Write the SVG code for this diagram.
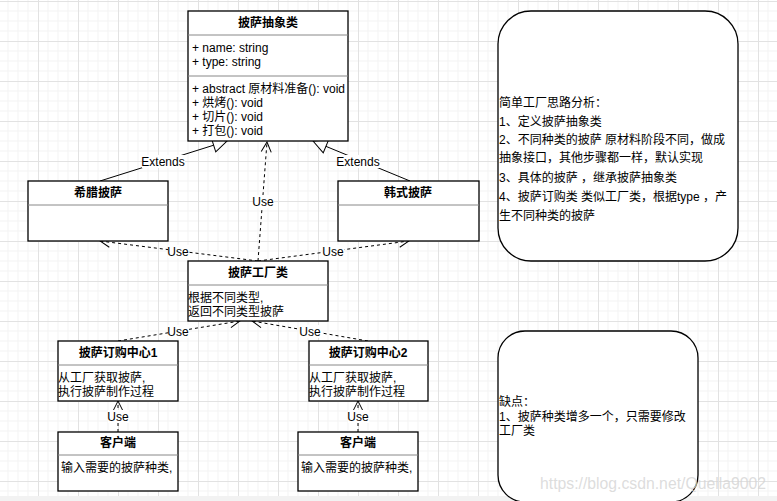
<svg xmlns="http://www.w3.org/2000/svg" width="777" height="501" viewBox="0 0 777 501">
<style>
text{font-family:"Liberation Sans","Noto Sans CJK SC",sans-serif;font-size:12px;fill:#000}
.t{font-weight:bold;text-anchor:middle}
.c{text-anchor:middle}
.box{fill:#fff;stroke:#000;stroke-width:1.3}
.div{stroke:#888;stroke-width:1}
.ext{fill:none;stroke:#000;stroke-width:1}
.use{fill:none;stroke:#000;stroke-width:1;stroke-dasharray:3,3}
.lb{fill:#fff}
.note{fill:#fff;stroke:#000;stroke-width:1.3}
</style>
<defs>
<pattern id="grid" x="38" y="41" width="40" height="40" patternUnits="userSpaceOnUse">
<path d="M10,0V40M20,0V40M30,0V40M0,10H40M0,20H40M0,30H40" stroke="#f3f3f3" stroke-width="1" fill="none"/>
<path d="M0.5,0V40M0,0.5H40" stroke="#e2e2e2" stroke-width="1" fill="none"/>
</pattern>
<marker id="open" viewBox="0 0 12 12" refX="11" refY="6" markerWidth="12" markerHeight="12" markerUnits="userSpaceOnUse" orient="auto">
<path d="M1,1 L11,6 L1,11" fill="none" stroke="#000" stroke-width="1"/>
</marker>
<marker id="tri" viewBox="0 0 16 16" refX="15" refY="8" markerWidth="16" markerHeight="16" markerUnits="userSpaceOnUse" orient="auto">
<path d="M1,1 L15,8 L1,15 Z" fill="#fff" stroke="#000" stroke-width="1"/>
</marker>
</defs>
<rect width="777" height="501" fill="#fff"/>
<rect width="777" height="501" fill="url(#grid)"/>
<rect x="0" y="496" width="777" height="5" fill="#f2f2f2"/>

<g id="connectors">
<line class="ext" x1="100" y1="181" x2="227" y2="141" marker-end="url(#tri)"/>
<line class="ext" x1="410" y1="181" x2="313" y2="141" marker-end="url(#tri)"/>
<line class="use" x1="258" y1="261" x2="267" y2="142" marker-end="url(#open)"/>
<line class="use" x1="258" y1="261" x2="100" y2="241" marker-end="url(#open)"/>
<line class="use" x1="258" y1="261" x2="409" y2="241" marker-end="url(#open)"/>
<line class="use" x1="118" y1="341" x2="240" y2="321" marker-end="url(#open)"/>
<line class="use" x1="368" y1="341" x2="252" y2="321" marker-end="url(#open)"/>
<line class="use" x1="118" y1="432" x2="118" y2="401" marker-end="url(#open)"/>
<line class="use" x1="358" y1="432" x2="358" y2="401" marker-end="url(#open)"/>
<rect class="lb" x="142" y="155" width="43" height="13"/>
<text class="c" x="163" y="166">Extends</text>
<rect class="lb" x="337" y="155" width="43" height="13"/>
<text class="c" x="358" y="166">Extends</text>
<rect class="lb" x="253" y="195" width="21" height="13"/>
<text class="c" x="263" y="206">Use</text>
<rect class="lb" x="168" y="245" width="21" height="13"/>
<text class="c" x="178" y="256">Use</text>
<rect class="lb" x="323" y="245" width="21" height="13"/>
<text class="c" x="333" y="256">Use</text>
<rect class="lb" x="168" y="325" width="21" height="13"/>
<text class="c" x="178" y="336">Use</text>
<rect class="lb" x="300" y="325" width="21" height="13"/>
<text class="c" x="310" y="336">Use</text>
<rect class="lb" x="108" y="410" width="21" height="13"/>
<text class="c" x="118" y="421">Use</text>
<rect class="lb" x="348" y="410" width="21" height="13"/>
<text class="c" x="358" y="421">Use</text>
</g>

<g id="abstract">
<rect class="box" x="188" y="11" width="160" height="130"/>
<line class="div" x1="188" y1="35" x2="348" y2="35"/>
<line class="div" x1="188" y1="76" x2="348" y2="76"/>
<text class="t" x="268" y="27">披萨抽象类</text>
<text x="192" y="52">+ name: string</text>
<text x="192" y="66">+ type: string</text>
<text x="192" y="93">+ abstract 原材料准备(): void</text>
<text x="192" y="107">+ 烘烤(): void</text>
<text x="192" y="121">+ 切片(): void</text>
<text x="192" y="135">+ 打包(): void</text>
</g>

<g id="greek">
<rect class="box" x="28" y="181" width="140" height="60"/>
<line class="div" x1="28" y1="205" x2="168" y2="205"/>
<text class="t" x="98" y="197">希腊披萨</text>
</g>

<g id="korean">
<rect class="box" x="338" y="181" width="141" height="60"/>
<line class="div" x1="338" y1="205" x2="479" y2="205"/>
<text class="t" x="408" y="197">韩式披萨</text>
</g>

<g id="factory">
<rect class="box" x="188" y="261" width="140" height="60"/>
<line class="div" x1="188" y1="285" x2="328" y2="285"/>
<text class="t" x="258" y="277">披萨工厂类</text>
<text x="188" y="302">根据不同类型,</text>
<text x="188" y="316">返回不同类型披萨</text>
</g>

<g id="order1">
<rect class="box" x="58" y="341" width="120" height="60"/>
<line class="div" x1="58" y1="365" x2="178" y2="365"/>
<text class="t" x="118" y="357">披萨订购中心1</text>
<text x="58" y="382">从工厂获取披萨,</text>
<text x="58" y="396">执行披萨制作过程</text>
</g>

<g id="order2">
<rect class="box" x="309" y="341" width="119" height="60"/>
<line class="div" x1="309" y1="365" x2="428" y2="365"/>
<text class="t" x="368" y="357">披萨订购中心2</text>
<text x="309" y="382">从工厂获取披萨,</text>
<text x="309" y="396">执行披萨制作过程</text>
</g>

<g id="client1">
<rect class="box" x="58" y="432" width="120" height="59"/>
<line class="div" x1="58" y1="455" x2="178" y2="455"/>
<text class="t" x="118" y="447">客户端</text>
<text x="61" y="472">输入需要的披萨种类,</text>
</g>

<g id="client2">
<rect class="box" x="298" y="432" width="120" height="59"/>
<line class="div" x1="298" y1="455" x2="418" y2="455"/>
<text class="t" x="358" y="447">客户端</text>
<text x="301" y="472">输入需要的披萨种类,</text>
</g>

<g id="note1">
<rect class="note" x="498" y="11" width="240" height="250" rx="33" ry="33"/>
<text x="499" y="107">简单工厂思路分析：</text>
<text x="499" y="126">1、定义披萨抽象类</text>
<text x="499" y="144">2、不同种类的披萨 原材料阶段不同，做成</text>
<text x="499" y="162">抽象接口，其他步骤都一样，默认实现</text>
<text x="499" y="182">3、具体的披萨 ，继承披萨抽象类</text>
<text x="499" y="201">4、披萨订购类 类似工厂类，根据type ，产</text>
<text x="499" y="220">生不同种类的披萨</text>
</g>

<g id="note2">
<rect class="note" x="498" y="331" width="200" height="171" rx="27" ry="27"/>
<text x="499" y="406">缺点：</text>
<text x="499" y="421">1、披萨种类增多一个，只需要修改</text>
<text x="499" y="435">工厂类</text>
</g>

<text x="540" y="489" textLength="226" lengthAdjust="spacingAndGlyphs" style="font-size:17px;fill:#d4d4d4;fill-opacity:0.8">https://blog.csdn.net/Quella9002</text>
</svg>
